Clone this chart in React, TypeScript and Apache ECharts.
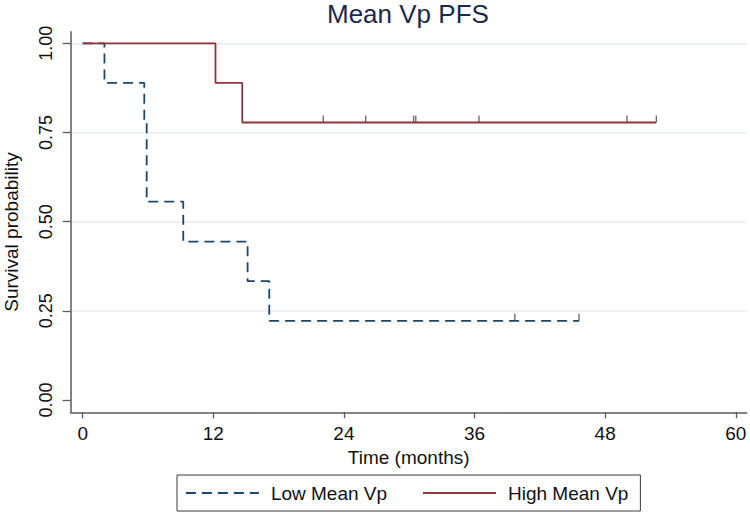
import React, { useEffect, useRef } from "react";
import * as echarts from "echarts";

const titleText = "Mean Vp PFS";
const xTickValues = [0, 12, 24, 36, 48, 60];
const yTickValues = [0, 0.25, 0.5, 0.75, 1];
const gridValues = [0.25, 0.5, 0.75, 1];

const lowName = "Low Mean Vp";
const lowTimes = [0, 2.0, 5.66, 5.88, 9.24, 15.15, 17.14, 45.6];
const lowSurv = [1, 0.889, 0.778, 0.556, 0.444, 0.333, 0.222, 0.222];
const lowCensorTimes = [39.7, 45.6];
const lowCensorSurv = [0.222, 0.222];

const highName = "High Mean Vp";
const highTimes = [0, 12.2, 14.66, 52.7];
const highSurv = [1, 0.889, 0.778, 0.778];
const highCensorTimes = [22.1, 26.0, 30.4, 30.6, 36.4, 50.0, 52.7];
const highCensorSurv = [0.778, 0.778, 0.778, 0.778, 0.778, 0.778, 0.778];

const FONT = "'Liberation Sans', Arial, Helvetica, sans-serif";
const NAVY = "#1a476f";
const MAROON = "#90353b";
const AXIS = "#5a5a5a";

const zip = (a: number[], b: number[]) => a.map((v, i) => [v, b[i]]);

export default function App() {
  const ref = useRef<HTMLDivElement>(null);
  useEffect(() => {
    if (!ref.current) return;
    const chart = echarts.init(ref.current, undefined, { renderer: "svg" });
    const censorStyle = {
      type: "scatter" as const,
      symbol: "rect",
      symbolSize: [1.4, 7],
      symbolOffset: [0, -3.5],
      itemStyle: { color: "#4a4a4a" },
      silent: true,
      z: 4,
    };
    chart.setOption({
      animation: false,
      backgroundColor: "#ffffff",
      textStyle: { fontFamily: FONT },
      title: {
        text: titleText,
        left: 327,
        top: 1,
        padding: 0,
        textStyle: { fontFamily: FONT, fontSize: 26, fontWeight: "normal", color: "#1c2a4a" },
      },
      legend: {
        data: [
          {
            name: lowName,
            lineStyle: { type: [10, 6], width: 1.8, color: NAVY },
            itemStyle: { opacity: 0 },
          },
          {
            name: highName,
            lineStyle: { width: 1.8, color: MAROON },
            itemStyle: { opacity: 0 },
          },
        ],
        left: 177,
        top: 475,
        orient: "horizontal",
        itemWidth: 73,
        itemHeight: 14,
        itemGap: 35,
        padding: [7, 12, 7, 8],
        borderColor: "#3a3a3a",
        borderWidth: 1,
        selectedMode: false,
        textStyle: { fontFamily: FONT, fontSize: 19, color: "#111", lineHeight: 22, padding: [0, 0, 0, 7] },
      },
      grid: {
        left: 70.7,
        right: 3.3,
        top: 31.7,
        bottom: 100.7,
        containLabel: false,
        outerBoundsMode: "none",
      },
      xAxis: {
        type: "value",
        min: -1.1,
        max: 61,
        name: "Time (months)",
        nameLocation: "middle",
        nameGap: 33,
        nameTextStyle: { fontFamily: FONT, fontSize: 19, color: "#111" },
        axisLine: { show: true, onZero: false, lineStyle: { color: AXIS, width: 1.5 } },
        axisTick: { show: true, length: 6, customValues: xTickValues, lineStyle: { color: AXIS, width: 1.3 } },
        axisLabel: { customValues: xTickValues, margin: 12, fontFamily: FONT, fontSize: 19, color: "#111" },
        splitLine: { show: false },
      },
      yAxis: {
        type: "value",
        min: -0.0345,
        max: 1.0325,
        name: "Survival probability",
        nameLocation: "middle",
        nameRotate: 90,
        nameGap: 50,
        nameTextStyle: { fontFamily: FONT, fontSize: 19, color: "#111", padding: [0, 20, 0, 0] },
        axisLine: { show: true, onZero: false, lineStyle: { color: AXIS, width: 1.5 } },
        axisTick: { show: true, length: 8, customValues: yTickValues, lineStyle: { color: AXIS, width: 1.3 } },
        axisLabel: {
          customValues: yTickValues,
          rotate: 90,
          margin: 16,
          fontFamily: FONT,
          fontSize: 18,
          color: "#111",
          formatter: (v: number) => v.toFixed(2),
        },
        splitLine: { show: false },
      },
      series: [
        {
          name: "gridlines",
          type: "line",
          data: [],
          z: 0,
          silent: true,
          markLine: {
            z: 0,
            silent: true,
            symbol: ["none", "none"],
            label: { show: false },
            lineStyle: { color: "#e4edf2", width: 1.6, type: "solid" },
            emphasis: { disabled: true },
            data: gridValues.map((v) => ({ yAxis: v })),
          },
        },
        {
          name: lowName,
          type: "line",
          step: "end",
          symbol: "none",
          data: zip(lowTimes, lowSurv),
          lineStyle: { color: NAVY, width: 1.8, type: [10, 6] },
          itemStyle: { color: NAVY },
          z: 6,
        },
        {
          name: highName,
          type: "line",
          step: "end",
          symbol: "none",
          data: zip(highTimes, highSurv),
          lineStyle: { color: MAROON, width: 1.8 },
          itemStyle: { color: MAROON },
          z: 7,
        },
        { ...censorStyle, name: "lowCensor", data: zip(lowCensorTimes, lowCensorSurv), z: 8 },
        { ...censorStyle, name: "highCensor", data: zip(highCensorTimes, highCensorSurv), z: 8 },
      ],
    });
    return () => chart.dispose();
  }, []);
  return (
    <div
      ref={ref}
      style={{ position: "absolute", left: 0, top: 0, width: 750, height: 513, background: "#fff" }}
    />
  );
}
